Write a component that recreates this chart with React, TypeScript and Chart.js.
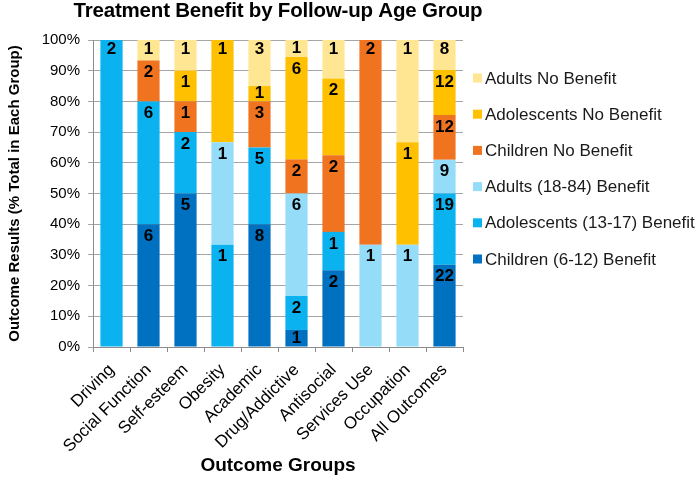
import React, { useEffect, useRef } from 'react';
import { Chart, registerables } from 'chart.js';

Chart.register(...registerables);

const categories = ['Driving', 'Social Function', 'Self-esteem', 'Obesity', 'Academic', 'Drug/Addictive', 'Antisocial', 'Services Use', 'Occupation', 'All Outcomes'];
const childrenBenefit = [0, 6, 5, 0, 8, 1, 2, 0, 0, 22];
const adolescentsBenefit = [2, 6, 2, 1, 5, 2, 1, 0, 0, 19];
const adultsBenefit = [0, 0, 0, 1, 0, 6, 0, 1, 1, 9];
const childrenNoBenefit = [0, 2, 1, 0, 3, 2, 2, 2, 0, 12];
const adolescentsNoBenefit = [0, 0, 1, 1, 1, 6, 2, 0, 1, 12];
const adultsNoBenefit = [0, 1, 1, 0, 3, 1, 1, 0, 1, 8];

const seriesNames = ['Children (6-12) Benefit', 'Adolescents (13-17) Benefit', 'Adults (18-84) Benefit', 'Children No Benefit', 'Adolescents No Benefit', 'Adults No Benefit'];
const seriesColors = ['#0070C0', '#0BB2F0', '#95DCF8', '#F07320', '#FFC000', '#FFE693'];
const seriesCounts = [childrenBenefit, adolescentsBenefit, adultsBenefit, childrenNoBenefit, adolescentsNoBenefit, adultsNoBenefit];

const titleText = 'Treatment Benefit by Follow-up Age Group';
const xTitle = 'Outcome Groups';
const yTitle = 'Outcome Results (% Total in Each Group)';

const FONT = "'Liberation Sans', Arial, sans-serif";

export default function App() {
  const ref = useRef<HTMLCanvasElement>(null);

  useEffect(() => {
    const totals = categories.map((_, j) => seriesCounts.reduce((s, arr) => s + arr[j], 0));
    const datasets = seriesCounts.map((arr, i) => ({
      label: seriesNames[i],
      data: arr.map((v, j) => (v / totals[j]) * 100),
      counts: arr,
      backgroundColor: seriesColors[i],
      borderWidth: 0,
      categoryPercentage: 1,
      barPercentage: 0.6,
    }));

    const titlePlugin = {
      id: 'customTitle',
      afterDraw(chart: any) {
        const ctx = chart.ctx;
        const area = chart.chartArea;
        ctx.save();
        ctx.font = `bold 20.5px ${FONT}`;
        (ctx as any).letterSpacing = '-0.2px';
        ctx.fillStyle = '#000';
        ctx.textAlign = 'center';
        ctx.textBaseline = 'middle';
        ctx.fillText(titleText, (area.left + area.right) / 2, 11);
        ctx.restore();
      },
    };

    const labelPlugin = {
      id: 'segLabels',
      afterDatasetsDraw(chart: any) {
        const ctx = chart.ctx;
        ctx.save();
        ctx.font = `bold 17px ${FONT}`;
        ctx.fillStyle = '#000';
        ctx.textAlign = 'center';
        ctx.textBaseline = 'middle';
        const n = chart.data.datasets.length;
        chart.data.datasets.forEach((ds: any, i: number) => {
          const meta = chart.getDatasetMeta(i);
          meta.data.forEach((el: any, j: number) => {
            const c = ds.counts[j];
            if (!c) return;
            let isTop = true;
            for (let k = i + 1; k < n; k++) if (chart.data.datasets[k].counts[j] > 0) isTop = false;
            const h = el.base - el.y;
            const off = Math.min(isTop ? 9 : 12, h / 2);
            ctx.fillText(String(c), el.x, el.y + off);
          });
        });
        ctx.restore();
      },
    };

    const legendPlugin = {
      id: 'customLegend',
      afterDraw(chart: any) {
        const ctx = chart.ctx;
        ctx.save();
        ctx.font = `17px ${FONT}`;
        ctx.textBaseline = 'middle';
        ctx.textAlign = 'left';
        const ds = chart.data.datasets;
        const order = ds.map((_: any, i: number) => i).reverse();
        order.forEach((i: number, r: number) => {
          const y = 78 + r * 36.2;
          ctx.fillStyle = ds[i].backgroundColor;
          ctx.fillRect(473, y - 4.5, 9, 9);
          ctx.fillStyle = '#1a1a1a';
          ctx.fillText(ds[i].label, 485, y + 1);
        });
        ctx.restore();
      },
    };

    const chart = new Chart(ref.current as HTMLCanvasElement, {
      type: 'bar',
      data: { labels: categories, datasets: datasets as any },
      options: {
        responsive: false,
        animation: false,
        layout: { padding: { top: 40, right: 237, bottom: 0, left: 0 } },
        plugins: {
          legend: { display: false },
          title: { display: false },
          tooltip: { enabled: false },
        },
        scales: {
          x: {
            stacked: true,
            grid: { display: true, drawOnChartArea: false, drawTicks: true, tickLength: 5, color: '#8c8c8c', offset: true },
            border: { display: true, color: '#8c8c8c' },
            ticks: { color: '#000', font: { family: FONT, size: 17 }, maxRotation: 45, minRotation: 45, padding: 8, autoSkip: false },
            title: { display: true, text: xTitle, color: '#000', font: { family: FONT, size: 19, weight: 'bold' }, padding: { top: 4, bottom: 3 } },
            afterFit(scale: any) { scale.height = 133; },
          },
          y: {
            stacked: true,
            min: 0,
            max: 100,
            grid: { color: '#a6a6a6', tickLength: 5, drawTicks: true },
            border: { display: true, color: '#8c8c8c' },
            ticks: { stepSize: 10, color: '#000', padding: 8, font: { family: FONT, size: 15 }, callback: (v: any) => v + '%' },
            title: { display: true, text: yTitle, color: '#000', font: { family: FONT, size: 15, weight: 'bold' }, padding: { top: 6, bottom: 4 } },
            afterFit(scale: any) { scale.width = 93; },
          },
        },
      },
      plugins: [titlePlugin, labelPlugin, legendPlugin],
    });
    return () => chart.destroy();
  }, []);

  return (
    <div style={{ position: 'fixed', left: 0, top: 0, width: 700, height: 480, background: '#fff' }}>
      <canvas ref={ref} width={700} height={480} />
    </div>
  );
}
